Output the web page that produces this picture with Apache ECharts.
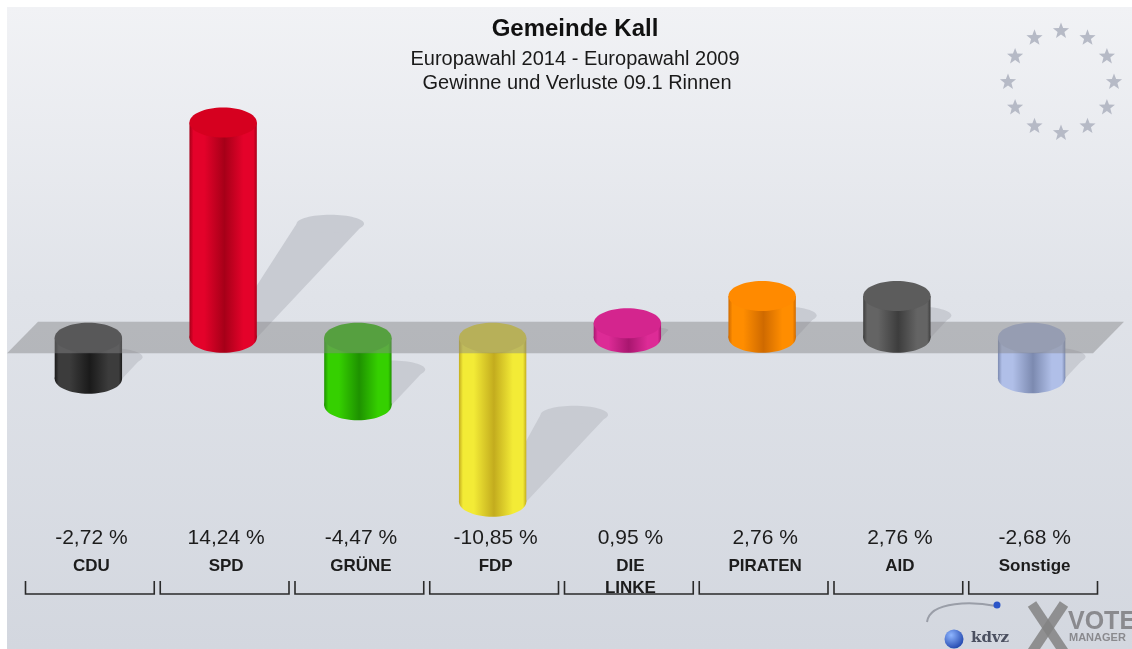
<!DOCTYPE html>
<html>
<head>
<meta charset="utf-8">
<title>Gemeinde Kall - Gewinne und Verluste</title>
<script src="https://cdn.jsdelivr.net/npm/echarts@6/dist/echarts.min.js"></script>
<style>
  html, body { margin: 0; padding: 0; background: #fff; }
  #chart { width: 1132px; height: 649px; }
</style>
</head>
<body>
<div id="chart"></div>
<script>
// Europawahl 2014 - Europawahl 2009, Stimmbezirk 09.1 Rinnen
const categories = ['CDU', 'SPD', 'GRÜNE', 'FDP', 'DIE\nLINKE', 'PIRATEN', 'AID', 'Sonstige'];
const changes = [-2.72, 14.24, -4.47, -10.85, 0.95, 2.76, 2.76, -2.68];

// light edge, dark middle, lid
const partyColors = [
  ['#3c3c3c', '#1a1a1a', '#303030'],
  ['#e4022a', '#a60018', '#d6001f'],
  ['#35d000', '#1e9200', '#2cb800'],
  ['#f3eb36', '#c3ac1e', '#e2d530'],
  ['#dd2b96', '#a9166f', '#d4258e'],
  ['#ff8d00', '#cf6a00', '#ff8a00'],
  ['#646464', '#3d3d3d', '#5c5c5c'],
  ['#b0bfe8', '#7c8ab0', '#a4b2d8']
];

const FONT = '"Liberation Sans", Arial, Helvetica, sans-serif';
const RY = 15;

const fmt = v => v.toFixed(2).replace('.', ',') + ' %';

function bodyFill(c) {
  return new echarts.graphic.LinearGradient(0, 0, 1, 0, [
    { offset: 0, color: c[1] },
    { offset: 0.06, color: c[0] },
    { offset: 0.22, color: c[0] },
    { offset: 0.52, color: c[1] },
    { offset: 0.8, color: c[0] },
    { offset: 0.95, color: c[0] },
    { offset: 1, color: c[1] }
  ]);
}

function geom(api) {
  const i = api.value(0), v = api.value(1);
  const p0 = api.coord([i, 0]), p1 = api.coord([i, v]);
  const w = api.size([1, 0])[0] * 0.5;
  return {
    i: i, v: v, cx: p0[0], w: w,
    xl: p0[0] - w / 2, xr: p0[0] + w / 2,
    yTop: Math.min(p0[1], p1[1]), yBot: Math.max(p0[1], p1[1])
  };
}

function renderCylinder(wantPositive) {
  return function (params, api) {
    const g = geom(api);
    if ((g.v >= 0) !== wantPositive) return null;
    const c = partyColors[g.i];
    return {
      type: 'group',
      children: [
        { type: 'ellipse', shape: { cx: g.cx, cy: g.yBot, rx: g.w / 2, ry: RY }, style: { fill: bodyFill(c) } },
        { type: 'rect', shape: { x: g.xl, y: g.yTop, width: g.w, height: g.yBot - g.yTop }, style: { fill: bodyFill(c) } },
        { type: 'ellipse', shape: { cx: g.cx, cy: g.yTop, rx: g.w / 2, ry: RY }, style: { fill: c[2] } }
      ]
    };
  };
}

function renderShadow(params, api) {
  const g = geom(api);
  const h = 0.53 * (g.yBot - g.yTop);
  const dx = 0.94 * h;
  const yS = g.yBot - h;
  const fill = '#c8cbd2';
  return {
    type: 'group',
    children: [
      { type: 'polygon', shape: { points: [[g.cx, g.yBot], [g.xr, g.yBot], [g.xr + dx, yS], [g.xl + dx, yS]] }, style: { fill: fill } },
      { type: 'ellipse', shape: { cx: g.cx + dx, cy: yS, rx: g.w / 2, ry: Math.min(9, h / 2) }, style: { fill: fill } }
    ]
  };
}

function renderPlane(params, api) {
  const cs = params.coordSys;
  const y0 = api.coord([0, 0])[1];
  const top = y0 - 16, bot = y0 + 15.5;
  return {
    type: 'polygon',
    shape: { points: [[cs.x + 17, top], [cs.x + cs.width + 25, top], [cs.x + cs.width - 6, bot], [cs.x - 14, bot]] },
    style: { fill: 'rgba(134,134,136,0.47)' }
  };
}

function renderBracket(params, api) {
  const cs = params.coordSys;
  const i = api.value(0);
  const cx = api.coord([i, 0])[0];
  const bw = api.size([1, 0])[0];
  const yb = cs.y + cs.height;
  const l = cx - bw / 2 + 4.5, r = cx + bw / 2 - 1.5;
  return {
    type: 'polyline',
    shape: { points: [[l, yb + 62], [l, yb + 75], [r, yb + 75], [r, yb + 62]] },
    style: { stroke: '#2a2a2a', lineWidth: 1.6, fill: null }
  };
}

function starPoints(cx, cy, R, r) {
  const pts = [];
  for (let k = 0; k < 10; k++) {
    const a = -Math.PI / 2 + k * Math.PI / 5;
    const rad = k % 2 === 0 ? R : r;
    pts.push([cx + rad * Math.cos(a), cy + rad * Math.sin(a)]);
  }
  return pts;
}

const stars = [];
for (let k = 0; k < 12; k++) {
  const a = -Math.PI / 2 + k * Math.PI / 6;
  stars.push({
    type: 'polygon',
    shape: { points: starPoints(1061 + 53 * Math.cos(a), 82 + 51 * Math.sin(a), 8.5, 3.6) },
    style: { fill: '#b6bac6' }
  });
}

function txt(text, x, y, font, fill, align) {
  return {
    type: 'text', x: x, y: y,
    style: {
      text: text, font: font, fill: fill,
      align: align || 'center', textAlign: align || 'center',
      verticalAlign: 'middle', textVerticalAlign: 'middle'
    }
  };
}

const barData = changes.map((v, i) => [i, v]);
const chart = echarts.init(document.getElementById('chart'));

chart.setOption({
  animation: false,
  grid: { left: 21, right: 33, top: 96, bottom: 130 },
  xAxis: {
    type: 'category',
    data: categories,
    axisLine: { show: false },
    axisTick: { show: false },
    axisLabel: {
      interval: 0,
      margin: 3,
      padding: [0, 0, 0, 6],
      formatter: (name, idx) => '{v|' + fmt(changes[idx]) + '}\n{n|' + name + '}',
      rich: {
        v: { fontFamily: FONT, fontSize: 21, lineHeight: 33, color: '#1c1c1c' },
        n: { fontFamily: FONT, fontSize: 17, fontWeight: 'bold', lineHeight: 22, color: '#1c1c1c' }
      }
    }
  },
  yAxis: {
    type: 'value',
    min: -12,
    max: 16,
    show: false,
    splitLine: { show: false }
  },
  graphic: [
    {
      type: 'rect', z: -100, silent: true,
      shape: { x: 7, y: 7, width: 1125, height: 642 },
      style: {
        fill: new echarts.graphic.LinearGradient(0, 0, 0, 1, [
          { offset: 0, color: '#f1f2f5' },
          { offset: 0.45, color: '#e0e3e9' },
          { offset: 1, color: '#d3d7df' }
        ])
      }
    },
    txt('Gemeinde Kall', 575, 29, 'bold 24px ' + FONT, '#111'),
    txt('Europawahl 2014 - Europawahl 2009', 575, 59, '20px ' + FONT, '#1a1a1a'),
    txt('Gewinne und Verluste 09.1 Rinnen', 577, 83, '20px ' + FONT, '#1a1a1a'),
    ...stars,
    {
      type: 'bezierCurve',
      shape: { x1: 927, y1: 622, x2: 996, y2: 606, cpx1: 930, cpy1: 600, cpx2: 975, cpy2: 602 },
      style: { stroke: '#9a9ea8', lineWidth: 2, fill: null }
    },
    {
      type: 'circle', shape: { cx: 954, cy: 639, r: 9.5 },
      style: {
        fill: new echarts.graphic.RadialGradient(0.35, 0.3, 0.8, [
          { offset: 0, color: '#8fb6ff' },
          { offset: 1, color: '#1a3fa8' }
        ])
      }
    },
    { type: 'circle', shape: { cx: 997, cy: 605, r: 3.5 }, style: { fill: '#2b55c8' } },
    txt('kdvz', 971, 638, 'bold 15px "DejaVu Serif", serif', '#4b5060', 'left'),
    { type: 'line', shape: { x1: 1032, y1: 604, x2: 1064, y2: 652 }, style: { stroke: 'rgba(130,130,130,0.85)', lineWidth: 10 } },
    { type: 'line', shape: { x1: 1064, y1: 604, x2: 1032, y2: 652 }, style: { stroke: 'rgba(130,130,130,0.85)', lineWidth: 10 } },
    txt('VOTE', 1068, 622, 'bold 25px ' + FONT, '#8a8a8e', 'left'),
    txt('MANAGER', 1069, 638, 'bold 11px ' + FONT, '#8a8a8e', 'left')
  ],
  series: [
    { type: 'custom', z: 1, clip: false, renderItem: renderShadow, data: barData, encode: { x: 0, y: 1 } },
    { type: 'custom', z: 2, clip: false, renderItem: renderCylinder(false), data: barData, encode: { x: 0, y: 1 } },
    { type: 'custom', z: 3, clip: false, renderItem: renderPlane, data: [[0, 0]], encode: { x: 0, y: 1 } },
    { type: 'custom', z: 4, clip: false, renderItem: renderCylinder(true), data: barData, encode: { x: 0, y: 1 } },
    { type: 'custom', z: 2, clip: false, renderItem: renderBracket, data: barData, encode: { x: 0, y: 1 } }
  ]
});
</script>
</body>
</html>
